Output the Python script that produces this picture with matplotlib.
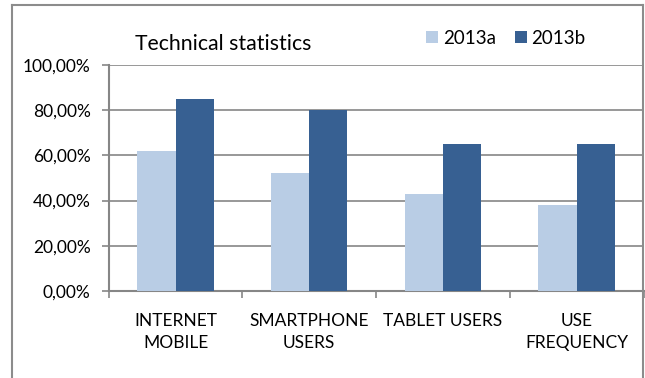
import numpy as np
import matplotlib.pyplot as plt
from matplotlib.lines import Line2D

# ==============================
# Data
# ==============================

categories = ["INTERNET\nMOBILE", "SMARTPHONE\nUSERS", "TABLET USERS", "USE\nFREQUENCY"]
series_names = ["2013a", "2013b"]
values_a = [0.62, 0.52, 0.43, 0.38]
values_b = [0.85, 0.80, 0.65, 0.65]
y_ticks = [0.0, 0.2, 0.4, 0.6, 0.8, 1.0]
y_tick_labels = ["0,00%", "20,00%", "40,00%", "60,00%", "80,00%", "100,00%"]

light = "#B9CDE5"
dark = "#376092"
grey = "#868686"

plt.rcParams['font.family'] = ['Lato', 'DejaVu Sans']

# ==============================
# Figure
# ==============================

fig = plt.figure(figsize=(6.45, 3.78), dpi=100)
ax = fig.add_axes([108.7 / 645, 1 - 291 / 378, (643.5 - 108.7) / 645, (291 - 65) / 378])

x = np.arange(len(categories))
w = 0.286
ax.bar(x - w / 2, values_a, w, color=light, label=series_names[0], zorder=3)
ax.bar(x + w / 2, values_b, w, color=dark, label=series_names[1], zorder=3)

ax.set_xlim(-0.5, len(categories) - 0.5)
ax.set_ylim(0, 1.0)
ax.set_yticks(y_ticks)
ax.set_yticklabels(y_tick_labels)
ax.yaxis.grid(True, color=grey, linewidth=1.2, zorder=0)
ax.set_axisbelow(True)

ax.set_xticks(x)
ax.set_xticklabels(categories, linespacing=1.45)
ax.set_xticks(np.arange(-0.5, len(categories)), minor=True)
ax.tick_params(axis='x', which='major', length=0, pad=16, labelsize=12.5)
ax.tick_params(axis='x', which='minor', length=5, width=1.2, color=grey)
ax.tick_params(axis='y', length=5, width=1.2, color=grey, pad=8, labelsize=12.5)

for s in ["top", "right"]:
    ax.spines[s].set_visible(False)
for s in ["left", "bottom"]:
    ax.spines[s].set_color(grey)
    ax.spines[s].set_linewidth(1.5)

# title and legend
fig.text(135 / 645, 1 - 44 / 378, "Technical statistics", fontsize=15.3,
         ha="left", va="center")
ax.legend(loc="center left", bbox_to_anchor=(426 / 645, 1 - 38 / 378),
          bbox_transform=fig.transFigure, ncol=2, frameon=False,
          fontsize=13.5, handlelength=0.65, handleheight=0.65,
          handletextpad=0.25, columnspacing=1.0, borderpad=0, borderaxespad=0)

# outer chart frame
frame_kw = dict(color="#8C8C8C", linewidth=1.5, transform=fig.transFigure)
fig.add_artist(Line2D([12 / 645, 12 / 645], [0, 1 - 5 / 378], **frame_kw))
fig.add_artist(Line2D([12 / 645, 643 / 645], [1 - 5 / 378, 1 - 5 / 378], **frame_kw))
fig.add_artist(Line2D([643 / 645, 643 / 645], [0, 1 - 5 / 378], **frame_kw))

fig.savefig("out.png", dpi=100)
